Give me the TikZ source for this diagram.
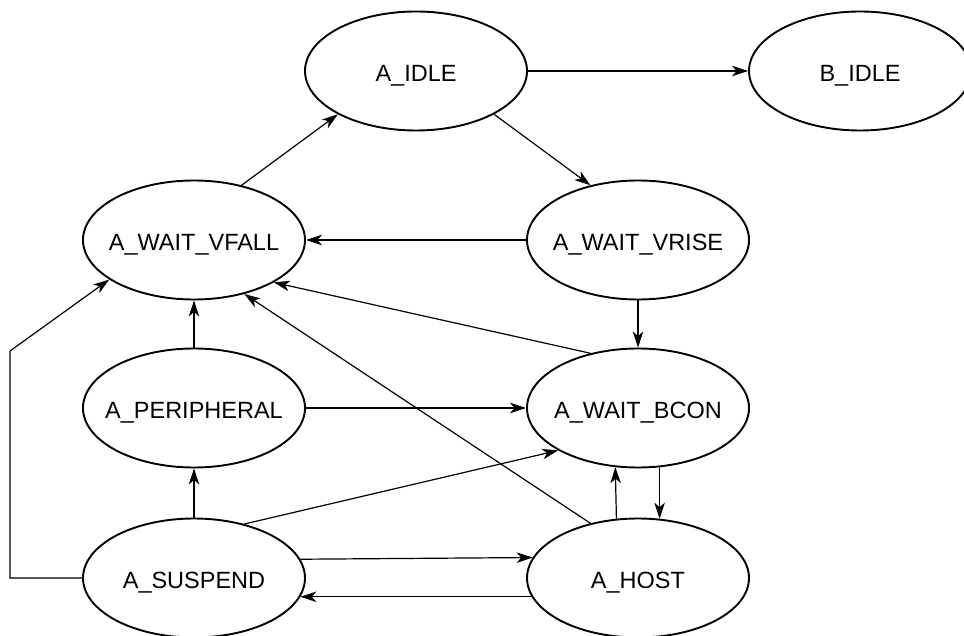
\documentclass[tikz,border=0pt]{standalone}
\usepackage{fontspec}
\setmainfont{Liberation Sans}
\usetikzlibrary{shapes.geometric,arrows.meta}
\newcommand{\zw}[1]{\makebox[0pt]{\raisebox{-2pt}{#1}}}
\begin{document}
\begin{tikzpicture}[x=1pt,y=1pt,
  state/.style={ellipse,draw,line width=1.9pt,minimum width=222pt,minimum height=119pt,inner sep=0pt,text height=17pt,text depth=0pt,font=\fontsize{23.5}{28}\selectfont},
  conn/.style={line width=1.2pt,-{Stealth[length=16pt,width=10.5pt,inset=4.5pt]}}]
\useasboundingbox (0,0) rectangle (964,635);
\node[state] (I) at (416,564) {\zw{A\_IDLE}};
\node[state] (B) at (860,564) {\zw{B\_IDLE}};
\node[state] (VF) at (194,395) {\zw{A\_WAIT\_VFALL}};
\node[state] (VR) at (638,395) {\zw{A\_WAIT\_VRISE}};
\node[state] (P) at (194,227) {\zw{A\_PERIPHERAL}};
\node[state] (BC) at (638,227) {\zw{A\_WAIT\_BCON}};
\node[state] (S) at (194,57) {\zw{A\_SUSPEND}};
\node[state] (H) at (638,57) {\zw{A\_HOST}};
\coordinate (k1) at (10,57);
\coordinate (k2) at (10,284);
\draw[conn] (I.east) -- (B.west);
\draw[conn] (I.-29.1) -- (VR.131.1);
\draw[conn] (VF.49.5) -- (I.209.4);
\draw[conn] (VR.west) -- (VF.east);
\draw[conn] (VR.south) -- (BC.north);
\draw[conn] (BC.131.1) -- (VF.-28.9);
\draw[conn] (H.131.1) -- (VF.-47.8);
\draw[conn] (P.north) -- (VF.south);
\draw[conn] (S.west) -- (k1) -- (k2) -- (VF.205.4);
\draw[conn] (P.east) -- (BC.west);
\draw[conn] (S.north) -- (P.south);
\draw[conn] (S.47.7) -- (BC.208.9);
\draw[conn] (BC.-70.2) -- (H.70.2);
\draw[conn] (H.110.7) -- (BC.249.3);
\draw[conn] (S.10.8) -- (H.169.2);
\draw[conn] (H.190.8) -- (S.-10.8);
\end{tikzpicture}
\end{document}
